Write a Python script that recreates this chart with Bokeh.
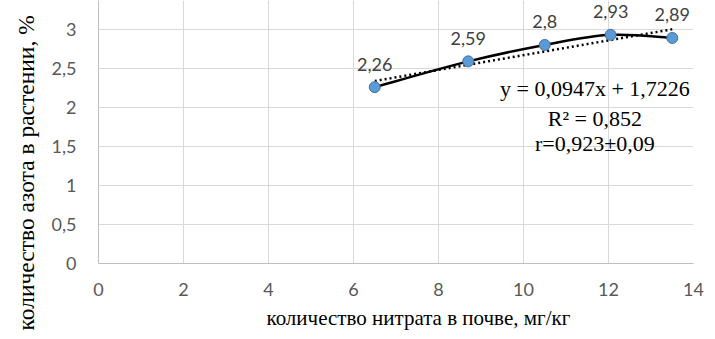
from bokeh.plotting import figure
from bokeh.models import Range1d, FixedTicker, LabelSet, ColumnDataSource, Title
from bokeh.core.properties import value
from bokeh.embed import file_html
from bokeh.resources import INLINE

# ---- data ----
nitrate = [6.5, 8.7, 10.5, 12.05, 13.5]          # мг/кг
nitrogen = [2.26, 2.59, 2.8, 2.93, 2.89]         # %
point_labels = ["2,26", "2,59", "2,8", "2,93", "2,89"]
x_ticks = [0, 2, 4, 6, 8, 10, 12, 14]
x_tick_labels = ["0", "2", "4", "6", "8", "10", "12", "14"]
y_ticks = [0, 0.5, 1, 1.5, 2, 2.5, 3]
y_tick_labels = ["0", "0,5", "1", "1,5", "2", "2,5", "3"]
trend_slope = 0.0947
trend_intercept = 1.7226
equation_lines = ["y = 0,0947x + 1,7226", "R\u00b2 = 0,852", "r=0,923\u00b10,09"]
x_title = "количество нитрата в почве,  мг/кг"
y_title = "количество азота в растении, %"

SERIF = "Liberation Serif"
SANS = "Lato"

p = figure(width=707, height=337, output_backend="svg", toolbar_location=None,
           x_range=Range1d(0, 14), y_range=Range1d(0, 3.37),
           min_border_left=98, min_border_right=14, min_border_top=0,
           min_border_bottom=74)
p.outline_line_color = None
p.background_fill_color = "white"
p.border_fill_color = "white"

# grid
for g in (p.xgrid, p.ygrid):
    g.grid_line_color = "#d9d9d9"
    g.grid_line_width = 1
p.xgrid.ticker = FixedTicker(ticks=x_ticks)
p.ygrid.ticker = FixedTicker(ticks=y_ticks)

# axes
p.xaxis.ticker = FixedTicker(ticks=x_ticks)
p.yaxis.ticker = FixedTicker(ticks=y_ticks)
p.xaxis.major_label_overrides = dict(zip(x_ticks, x_tick_labels))
p.yaxis.major_label_overrides = dict(zip(y_ticks, y_tick_labels))
for ax in (p.xaxis[0], p.yaxis[0]):
    ax.axis_line_color = "#bfbfbf"
    ax.major_tick_line_color = None
    ax.minor_tick_line_color = None
    ax.major_label_text_font = SANS
    ax.major_label_text_font_size = "18px"
    ax.major_label_text_color = "#595959"
p.xaxis.major_label_standoff = 13
p.yaxis.major_label_standoff = 16

# axis titles (side titles, positioned along the axis like in the reference)
p.add_layout(Title(text=x_title, align="left", offset=168, standoff=11,
                   text_font=SERIF, text_font_size="21px",
                   text_font_style="normal", text_color="black"), "below")
p.add_layout(Title(text=y_title, align="left", offset=-67, standoff=20,
                   text_font=SERIF, text_font_size="23.5px",
                   text_font_style="normal", text_color="black"), "left")

# smoothed data line (cubic Bezier, Catmull-Rom style control points)
n = len(nitrate)
x0s, y0s, x1s, y1s, cx0, cy0, cx1, cy1 = [], [], [], [], [], [], [], []
for i in range(n - 1):
    im = max(i - 1, 0)
    ip = min(i + 2, n - 1)
    x0s.append(nitrate[i]); y0s.append(nitrogen[i])
    x1s.append(nitrate[i + 1]); y1s.append(nitrogen[i + 1])
    cx0.append(nitrate[i] + (nitrate[i + 1] - nitrate[im]) / 6)
    cy0.append(nitrogen[i] + (nitrogen[i + 1] - nitrogen[im]) / 6)
    cx1.append(nitrate[i + 1] - (nitrate[ip] - nitrate[i]) / 6)
    cy1.append(nitrogen[i + 1] - (nitrogen[ip] - nitrogen[i]) / 6)
p.bezier(x0=x0s, y0=y0s, x1=x1s, y1=y1s, cx0=cx0, cy0=cy0, cx1=cx1, cy1=cy1,
         line_color="black", line_width=2.5)

# linear trend line (dotted)
tx = [min(nitrate), max(nitrate)]
ty = [trend_slope * v + trend_intercept for v in tx]
p.line(tx, ty, line_color="black", line_width=2.5, line_dash="2 3")

# markers
src = ColumnDataSource(dict(x=nitrate, y=nitrogen, lab=point_labels))
p.scatter("x", "y", source=src, size=11, fill_color="#5B9BD5",
          line_color="#41719C", line_width=1)

# data labels
p.add_layout(LabelSet(x="x", y="y", text="lab", source=src, y_offset=23,
                      text_align="center", text_baseline="middle",
                      text_font=value(SANS), text_font_size="18px",
                      text_color="#404040"))

# equation texts
eq_y = [2.24, 1.86, 1.54]
p.text(x=[11.68] * 3, y=eq_y, text=equation_lines, text_align="center",
       text_baseline="middle", text_font=value(SERIF), text_font_size="22px",
       text_color="black")

open("out.html", "w").write(file_html(p, INLINE))
